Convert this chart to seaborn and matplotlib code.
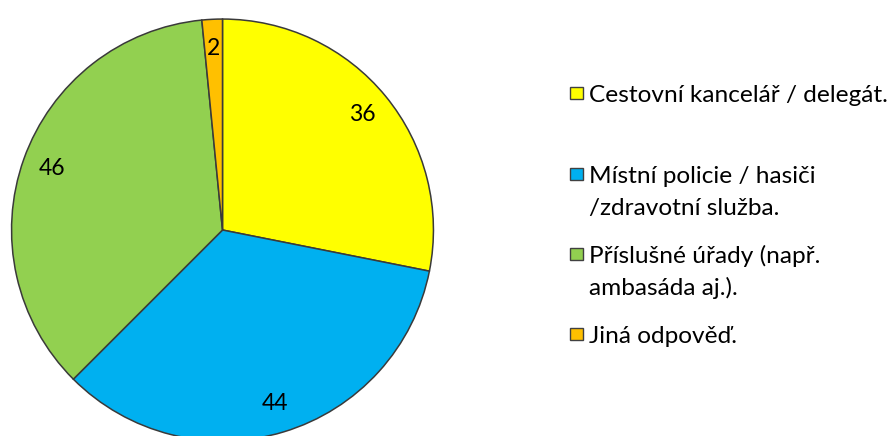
import matplotlib
matplotlib.use("Agg")
import matplotlib.pyplot as plt
from matplotlib.patches import Rectangle
import seaborn as sns

categories = ["Cestovní kancelář / delegát.",
              "Místní policie / hasiči\n/zdravotní služba.",
              "Příslušné úřady (např.\nambasáda aj.).",
              "Jiná odpověď."]
values = [36, 44, 46, 2]
colors = ["#FFFF00", "#00B0F0", "#92D050", "#FFC000"]

sns.set_theme(style="white")
plt.rcParams["font.family"] = ["Lato", "DejaVu Sans"]

W, H = 893, 436
fig = plt.figure(figsize=(W / 100, H / 100), dpi=100)
fig.patch.set_facecolor("white")

cx, cy, r = 222.5, 230.0, 212.0
ax = fig.add_axes([(cx - r) / W, (H - cy - r) / H, 2 * r / W, 2 * r / H])
wedges, texts = ax.pie(values, colors=sns.color_palette(colors), startangle=90,
                       counterclock=False, labels=[str(v) for v in values],
                       labeldistance=0.86,
                       wedgeprops=dict(edgecolor="#3a3a3a", linewidth=1.1),
                       textprops=dict(fontsize=16.5, color="black"))
for t in texts:
    t.set_ha("center")
    t.set_va("center")
ax.set_xlim(-1.005, 1.005)
ax.set_ylim(-1.005, 1.005)
ax.set_aspect("equal")
ax.axis("off")

# legend drawn manually (marker aligned to first text line)
box_x, box_w = 570, 12.5
text_x = 589
first_line_centers = [93, 174, 254, 334]
line_gap = 32
fs = 17.6
for lab, col, yc in zip(categories, colors, first_line_centers):
    fig.patches.append(Rectangle((box_x / W, (H - yc - box_w / 2) / H), box_w / W, box_w / H,
                                 transform=fig.transFigure, facecolor=col,
                                 edgecolor="#404040", linewidth=1.0))
    for i, line in enumerate(lab.split("\n")):
        fig.text(text_x / W, (H - yc - i * line_gap) / H, line, ha="left", va="center_baseline",
                 fontsize=fs, color="black")

fig.savefig("out.png", dpi=100)
